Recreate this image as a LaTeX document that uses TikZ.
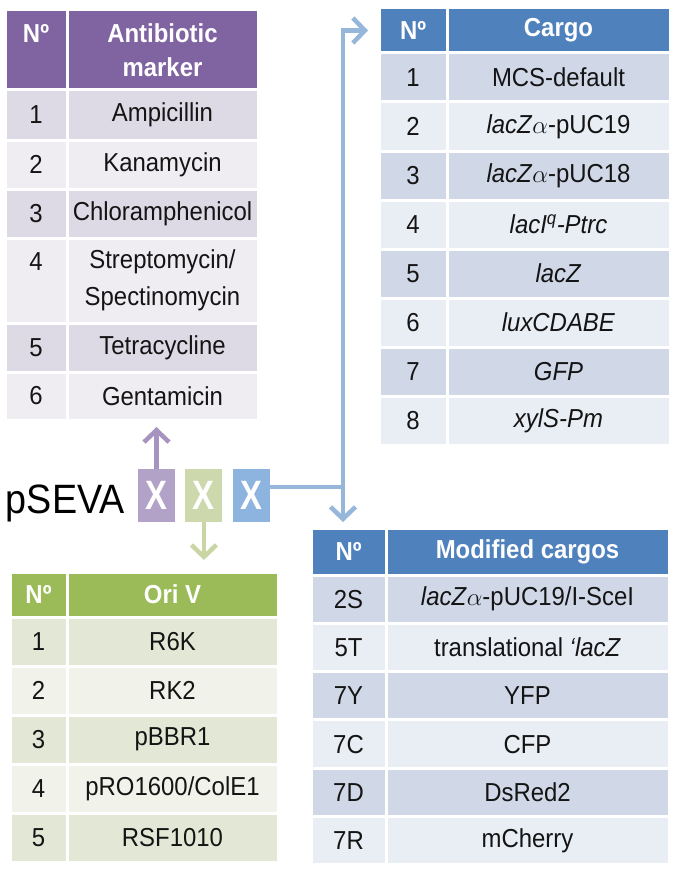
\documentclass[tikz,border=0pt]{standalone}
\usepackage{fontspec}
\setmainfont{Liberation Sans}[FakeStretch=0.92]
\newfontfamily\xfont{Liberation Sans}[FakeStretch=0.8]
\usetikzlibrary{positioning,arrows.meta}

\definecolor{abhead}{HTML}{8064A2}
\definecolor{abodd}{HTML}{DEDAE5}
\definecolor{abeven}{HTML}{EFEDF2}
\definecolor{cghead}{HTML}{4F81BD}
\definecolor{cgodd}{HTML}{D0D8E8}
\definecolor{cgeven}{HTML}{E9EDF4}
\definecolor{orhead}{HTML}{9BBB59}
\definecolor{orodd}{HTML}{E3E8D6}
\definecolor{oreven}{HTML}{F1F3EA}
\definecolor{abbox}{HTML}{B3A2C7}
\definecolor{orbox}{HTML}{CDD9AC}
\definecolor{cgbox}{HTML}{8DB4DE}
\definecolor{abline}{HTML}{A793C0}
\definecolor{orline}{HTML}{C9D5A3}
\definecolor{cgline}{HTML}{96B6DA}

\tikzset{
  cell/.style={anchor=north west, draw=white, line width=3pt, outer sep=0pt, inner sep=1pt,
    align=center, text=black!92, font=\fontsize{26}{37}\selectfont},
  headcell/.style={cell, text=white, font=\bfseries\fontsize{26}{34}\selectfont},
  xbox/.style={minimum width=37pt, minimum height=53pt, inner sep=0pt, text=white,
    font=\xfont\bfseries\fontsize{41}{41}\selectfont},
  link/.style={line width=4.5pt, -{Straight Barb[length=12pt,width=25pt]}},
}

\begin{document}
\begin{tikzpicture}[x=1pt,y=-1pt]
\useasboundingbox (0,0) rectangle (680,872);

% antibiotic marker
\node[headcell, fill=abhead, minimum width=62pt, minimum height=80pt] (abhn) at (5,10) {Nº\\\phantom{N}};
\node[headcell, fill=abhead, minimum width=191pt, minimum height=80pt] (abht) at (67,10) {Antibiotic\\marker};
\foreach \n/\txt/\ty/\h [count=\i] in {1/Ampicillin/90/50, 2/Kanamycin/140/49,
    3/Chloramphenicol/189/49, {4\\\phantom{4}}/{Streptomycin/\\Spectinomycin}/238/85,
    5/Tetracycline/323/49, 6/Gentamicin/372/48} {
  \ifodd\i\relax\def\rowfill{abodd}\else\def\rowfill{abeven}\fi
  \node[cell, fill=\rowfill, minimum width=62pt, minimum height=\h pt] (abn\i) at (5,\ty) {\n};
  \node[cell, fill=\rowfill, minimum width=191pt, minimum height=\h pt] (abt\i) at (67,\ty) {\txt};
}

% cargo
\node[headcell, fill=cghead, minimum width=68pt, minimum height=45pt] (cghn) at (379,8) {Nº};
\node[headcell, fill=cghead, minimum width=223pt, minimum height=45pt] (cght) at (447,8) {Cargo};
\foreach \n/\txt [count=\i] in {1/MCS-default, 2/{\textit{lacZ}$\alpha$-pUC19},
    3/{\textit{lacZ}$\alpha$-pUC18}, 4/{\textit{lacI\textsuperscript{q}-Ptrc}}, 5/\textit{lacZ},
    6/\textit{luxCDABE}, 7/\textit{GFP}, 8/\textit{xylS-Pm}} {
  \ifodd\i\relax\def\rowfill{cgodd}\else\def\rowfill{cgeven}\fi
  \pgfmathsetmacro\ty{53+49*(\i-1)}
  \node[cell, fill=\rowfill, minimum width=68pt, minimum height=49pt] (cgn\i) at (379,\ty) {\n};
  \node[cell, fill=\rowfill, minimum width=223pt, minimum height=49pt] (cgt\i) at (447,\ty) {\txt};
}

% ori V
\node[headcell, fill=orhead, minimum width=57pt, minimum height=45pt] (orhn) at (10,572) {Nº};
\node[headcell, fill=orhead, minimum width=211pt, minimum height=45pt] (orht) at (67,572) {Ori V};
\foreach \n/\txt [count=\i] in {1/R6K, 2/RK2, 3/pBBR1, 4/{pRO1600/ColE1}, 5/RSF1010} {
  \ifodd\i\relax\def\rowfill{orodd}\else\def\rowfill{oreven}\fi
  \pgfmathsetmacro\ty{617+49*(\i-1)}
  \node[cell, fill=\rowfill, minimum width=57pt, minimum height=49pt] (orn\i) at (10,\ty) {\n};
  \node[cell, fill=\rowfill, minimum width=211pt, minimum height=49pt] (ort\i) at (67,\ty) {\txt};
}

% modified cargos
\node[headcell, fill=cghead, minimum width=75pt, minimum height=47pt] (mchn) at (311,528) {Nº};
\node[headcell, fill=cghead, minimum width=283pt, minimum height=47pt] (mcht) at (386,528) {Modified cargos};
\foreach \n/\txt [count=\i] in {2S/{\textit{lacZ}$\alpha$-pUC19/I-SceI}, 5T/{translational \textit{‘lacZ}},
    7Y/YFP, 7C/CFP, 7D/DsRed2, 7R/mCherry} {
  \ifodd\i\relax\def\rowfill{cgodd}\else\def\rowfill{cgeven}\fi
  \pgfmathsetmacro\ty{575+48.3*(\i-1)}
  \node[cell, fill=\rowfill, minimum width=75pt, minimum height=48.3pt] (mcn\i) at (311,\ty) {\n};
  \node[cell, fill=\rowfill, minimum width=283pt, minimum height=48.3pt] (mct\i) at (386,\ty) {\txt};
}

% pSEVA xxx
\node[anchor=base east, inner sep=0pt, font=\fontsize{41}{41}\selectfont] (pseva) at (125,513) {pSEVA};
\node[xbox, fill=abbox] (xab) at (156.5,495.5) {X};
\node[xbox, fill=orbox, right=10pt of xab] (xor) {X};
\node[xbox, fill=cgbox, right=10pt of xor] (xcg) {X};

\draw[link, abline, shorten >=7pt] (xab.north) -- (xab.north |- abt6.south);
\draw[link, orline, shorten >=12pt] (xor.south) -- (xor.south |- orht.north);
\coordinate (split) at (343,487);
\draw[link, cgline, shorten >=11pt] ([yshift=8.5pt]xcg.east) -- (split) |- (cghn.west);
\draw[link, cgline, shorten >=6pt] (split) -- (split |- mchn.north);
\end{tikzpicture}
\end{document}
